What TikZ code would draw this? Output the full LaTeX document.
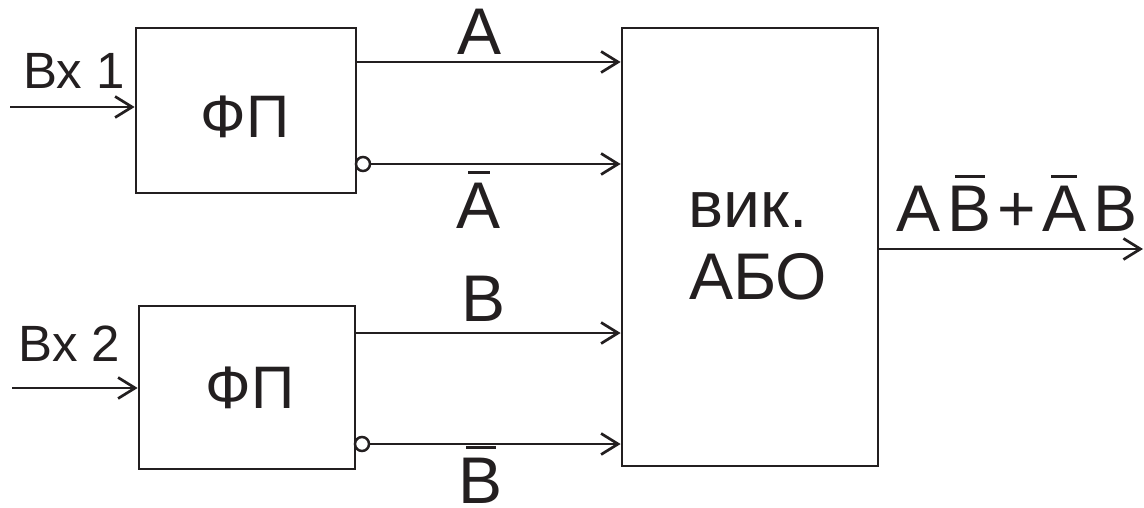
\documentclass[tikz,border=0pt]{standalone}
\usepackage{fontspec}
\setmainfont{Liberation Sans}
\usetikzlibrary{arrows.meta}
\definecolor{ink}{RGB}{35,31,32}
% letter with a short bar above it: \ovbar{bar width}{letter}
\newcommand\ovbar[2]{\setbox0\hbox{#2}\rlap{\hbox to \wd0{\hss\raisebox{0.82em}{\rule{#1}{2.6pt}}\hss}}\box0}
\begin{document}
\begin{tikzpicture}[x=1pt,y=-1pt,line width=2.7pt,color=ink,
  block/.style={draw,rectangle,inner sep=0pt},
  sig/.style={-{Straight Barb[length=17pt,width=21pt]}},
  inv/.style={draw,circle,minimum size=14pt,inner sep=0pt,line width=2.5pt},
  big/.style={inner sep=0pt,anchor=base,font=\fontsize{66}{72}\selectfont},
  mid/.style={inner sep=0pt,anchor=base,font=\fontsize{60}{68}\selectfont},
  small/.style={inner sep=0pt,anchor=base,font=\fontsize{51}{60}\selectfont}]
\useasboundingbox (0,0) rectangle (1144,508);

% blocks
\node[block,minimum width=220pt,minimum height=165pt] (fp1) at (246,110.5) {};
\node[block,minimum width=216pt,minimum height=163pt] (fp2) at (247,387.5) {};
\node[block,minimum width=256pt,minimum height=438pt] (abo) at (750,247) {};

% block captions
\node[mid] (fp1t) at (245,137.5) {ФП};
\node[mid] (fp2t) at (250,408) {ФП};
\node[big] (abot1) at (748.5,227) {вик.};
\node[big] (abot2) at (758,299) {АБО};

% inputs
\coordinate (x1) at (10,107);
\coordinate (x2) at (12,388);
\draw[sig] (x1) -- (fp1.west |- x1);
\draw[sig] (x2) -- (fp2.west |- x2);
\node[small] (x1t) at (74,89) {Вх 1};
\node[small] (x2t) at (69.5,361) {Вх 2};

% direct outputs
\coordinate (a) at (356,62);
\coordinate (b) at (355,333);
\draw[sig] (a) -- (abo.west |- a);
\draw[sig] (b) -- (abo.west |- b);

% inverted outputs
\node[inv] (na) at (363,164) {};
\node[inv] (nb) at (362,444) {};
\draw[sig] (na.east) -- (abo.west |- na);
\draw[sig] (nb.east) -- (abo.west |- nb);

% signal labels
\node[big] (at) at (480,55) {A};
\node[big] (nat) at (479,228) {\ovbar{0.32em}{A}};
\node[big] (bt) at (483.5,321) {B};
\node[big] (nbt) at (481,503) {\ovbar{0.45em}{B}};

% result
\coordinate (y) at (1143,249);
\draw[sig] (abo.east |- y) -- (y);
\node[big] (yt) at (1017,232) {A\hspace{7pt}\ovbar{0.45em}{B}\hspace{6pt}+\hspace{6pt}\ovbar{0.4em}{A}\hspace{7pt}B};
\end{tikzpicture}
\end{document}
